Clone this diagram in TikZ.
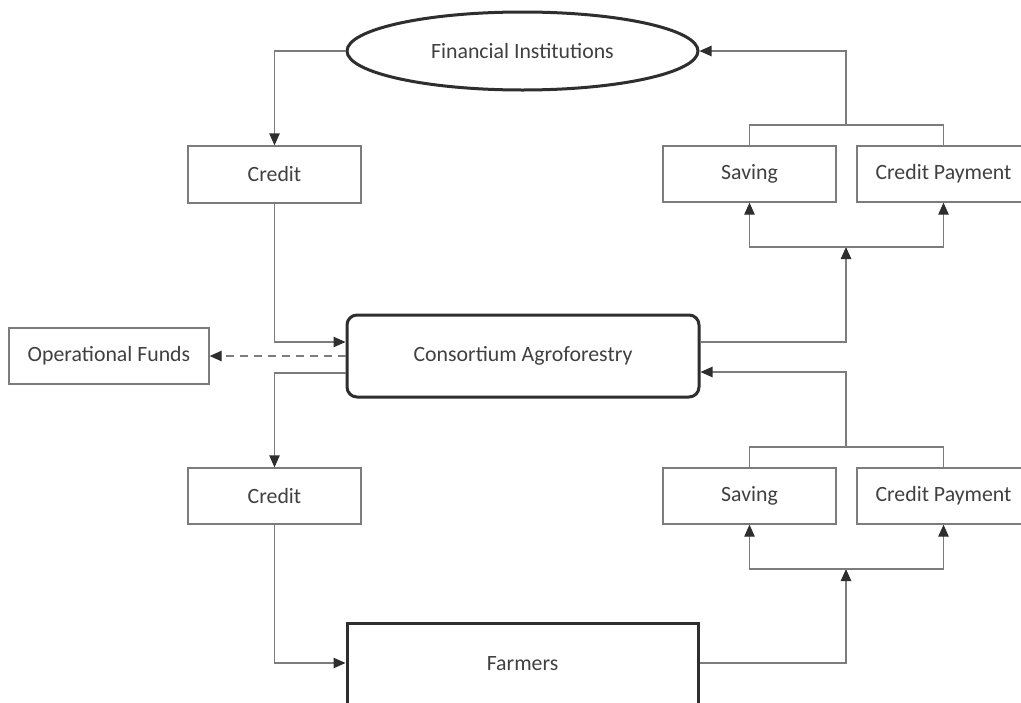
\documentclass[tikz,border=0pt]{standalone}
\usepackage{fontspec}
\setmainfont{Carlito}
\usetikzlibrary{arrows.meta,shapes.geometric,calc}
\definecolor{linegray}{HTML}{7C7C7C}
\definecolor{darkline}{HTML}{2E2E2E}
\definecolor{txt}{HTML}{404040}
\tikzset{
  thinbox/.style={draw=linegray, line width=0.65pt, fill=white, text=txt, inner sep=0pt,
    font=\fontsize{10.9pt}{13pt}\selectfont},
  thickbox/.style={draw=darkline, line width=1.5pt, fill=white, text=txt, inner sep=0pt,
    font=\fontsize{10.9pt}{13pt}\selectfont},
  conn/.style={draw=linegray, line width=0.65pt},
  arr/.style={conn, -{Triangle[length=6pt,width=5.2pt,color=darkline]}},
  dasharr/.style={arr, dash pattern=on 4pt off 3pt}
}
\begin{document}
\begin{tikzpicture}[x=0.5pt,y=-0.5pt]
\useasboundingbox[fill=white] (0,0) rectangle (1021,702);
% nodes
\node[thickbox, ellipse, minimum width=175.5pt, minimum height=39pt] (fin) at (522.5,51) {Financial Institutions};
\node[thinbox, minimum width=86.5pt, minimum height=28.5pt] (credit1) at (274.5,174.5) {Credit};
\node[thinbox, minimum width=86.5pt, minimum height=28pt] (saving1) at (749.5,174) {Saving};
\node[thinbox, minimum width=86.5pt, minimum height=28pt] (cp1) at (943.5,174) {Credit Payment};
\node[thinbox, minimum width=100pt, minimum height=28pt] (op) at (109,356) {Operational Funds};
\node[thickbox, rounded corners=5pt, minimum width=176pt, minimum height=41pt] (cons) at (523,356) {Consortium Agroforestry};
\node[thinbox, minimum width=86.5pt, minimum height=28pt] (credit2) at (274.5,496) {Credit};
\node[thinbox, minimum width=86.5pt, minimum height=28pt] (saving2) at (749.5,496) {Saving};
\node[thinbox, minimum width=86.5pt, minimum height=28pt] (cp2) at (943.5,496) {Credit Payment};
\node[thickbox, minimum width=175.5pt, minimum height=45pt] (farmers) at (522.5,668) {\raisebox{5pt}{Farmers}};
% bus coordinates
\coordinate (t1) at (846,125);
\coordinate (b1) at (846,247);
\coordinate (t2) at (846,447);
\coordinate (b2) at (846,569);
% top section
\draw[arr] (fin.west) -| (credit1.north);
\draw[arr] (credit1.south) |- ([yshift=7pt]cons.west);
\draw[conn] (saving1.north) |- (t1) -| (cp1.north);
\draw[arr] (t1) |- (fin.east);
\draw[arr] ([yshift=7pt]cons.east) -| (b1);
\draw[arr] (b1) -| (saving1.south);
\draw[arr] (b1) -| (cp1.south);
% middle
\draw[dasharr] (cons.west) -- (op.east);
% lower section
\draw[arr] ([yshift=-8.5pt]cons.west) -| (credit2.north);
\draw[arr] (credit2.south) |- ([yshift=2.5pt]farmers.west);
\draw[conn] (saving2.north) |- (t2) -| (cp2.north);
\draw[arr] (t2) |- ([yshift=-8pt]cons.east);
\draw[arr] ([yshift=2.5pt]farmers.east) -| (b2);
\draw[arr] (b2) -| (saving2.south);
\draw[arr] (b2) -| (cp2.south);
\end{tikzpicture}
\end{document}
